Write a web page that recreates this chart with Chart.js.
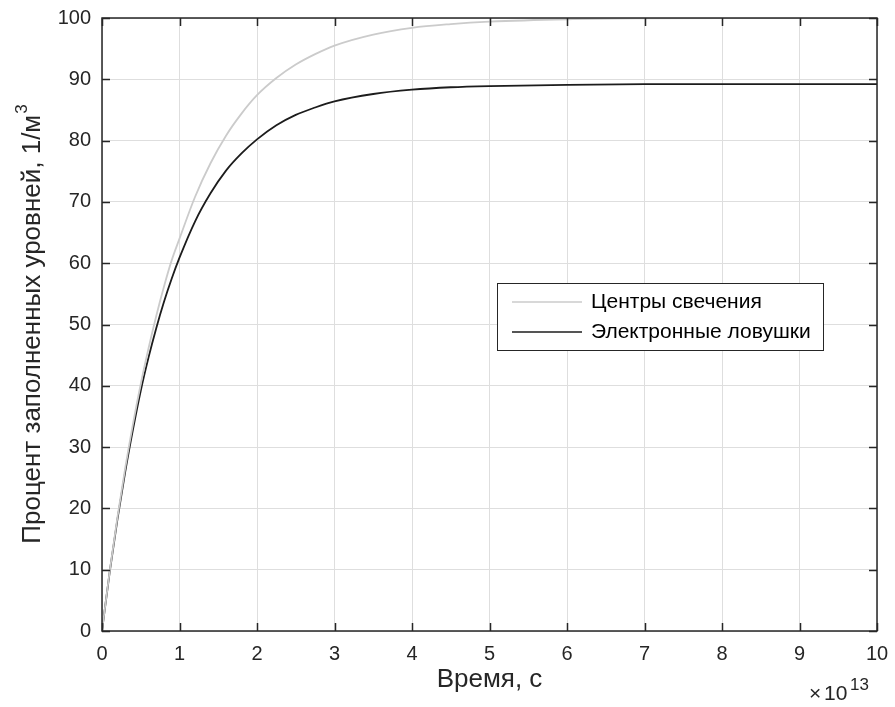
<!DOCTYPE html>
<html>
<head>
<meta charset="utf-8">
<script src="https://cdn.jsdelivr.net/npm/chart.js@4.4.0/dist/chart.umd.min.js"></script>
<style>
  html, body { margin: 0; padding: 0; background: #fff; }
  #wrap { width: 895px; height: 707px; }
</style>
</head>
<body>
<div id="wrap"><canvas id="grafico" width="895" height="707"></canvas></div>
<script>
// время, ×10^13 с
const tempi = [0, 0.1, 0.2, 0.3, 0.4, 0.5, 0.6, 0.7, 0.8, 0.9, 1.0, 1.2, 1.4, 1.6, 1.8, 2.0,
  2.25, 2.5, 2.75, 3.0, 3.5, 4.0, 4.5, 5, 6, 7, 8, 9, 10];
const centri = [0, 9.8, 18.6, 26.6, 33.8, 40.3, 46.1, 51.4, 56.2, 60.5, 64.0, 70.8, 76.3, 80.8, 84.4, 87.4,
  90.2, 92.4, 94.1, 95.5, 97.3, 98.4, 99.0, 99.4, 99.8, 99.95, 100, 100, 100];
const trappole = [0, 9.7, 18.3, 26.0, 32.9, 39.2, 44.6, 49.4, 53.7, 57.5, 60.9, 66.8, 71.4, 75.1, 77.9, 80.2,
  82.5, 84.2, 85.4, 86.4, 87.6, 88.3, 88.7, 88.9, 89.1, 89.2, 89.2, 89.2, 89.2];
const etichette = ['Центры свечения', 'Электронные ловушки'];
const titoloX = 'Время, с';
const titoloY = 'Процент заполненных уровней, 1/м';
const xTicks = [0, 1, 2, 3, 4, 5, 6, 7, 8, 9, 10];
const yTicks = [0, 10, 20, 30, 40, 50, 60, 70, 80, 90, 100];

const FONT = '"Liberation Sans", Arial, sans-serif';
const TESTO = '#262626';

const punti = (ys) => tempi.map((t, i) => ({ x: t, y: ys[i] }));

const decorazioni = {
  id: 'decorazioni',
  afterDraw(chart) {
    const ctx = chart.ctx;
    const a = chart.chartArea;
    const sx = chart.scales.x, sy = chart.scales.y;
    ctx.save();
    // riquadro
    ctx.strokeStyle = TESTO;
    ctx.lineWidth = 1.5;
    ctx.strokeRect(a.left, a.top, a.right - a.left, a.bottom - a.top);
    // tacche interne
    const L = 8;
    ctx.beginPath();
    xTicks.forEach(v => {
      const px = Math.round(sx.getPixelForValue(v)) + 0.5;
      ctx.moveTo(px, a.bottom); ctx.lineTo(px, a.bottom - L);
      ctx.moveTo(px, a.top); ctx.lineTo(px, a.top + L);
    });
    yTicks.forEach(v => {
      const py = Math.round(sy.getPixelForValue(v)) + 0.5;
      ctx.moveTo(a.left, py); ctx.lineTo(a.left + L, py);
      ctx.moveTo(a.right, py); ctx.lineTo(a.right - L, py);
    });
    ctx.stroke();

    // titolo asse X
    ctx.fillStyle = TESTO;
    ctx.font = '26px ' + FONT;
    ctx.textAlign = 'center';
    ctx.textBaseline = 'alphabetic';
    ctx.fillText(titoloX, (a.left + a.right) / 2, 687);

    // moltiplicatore ×10^13
    ctx.textAlign = 'left';
    ctx.font = '21px ' + FONT;
    ctx.fillText('\u00d7', 809, 700);
    ctx.fillText('10', 824, 700);
    ctx.font = '17px ' + FONT;
    ctx.fillText('13', 850, 690);

    // titolo asse Y
    ctx.save();
    ctx.translate(40, (a.top + a.bottom) / 2);
    ctx.rotate(-Math.PI / 2);
    ctx.font = '26px ' + FONT;
    const w1 = ctx.measureText(titoloY).width;
    ctx.font = '17px ' + FONT;
    const w2 = ctx.measureText('3').width;
    const start = -(w1 + w2) / 2;
    ctx.font = '26px ' + FONT;
    ctx.textAlign = 'left';
    ctx.textBaseline = 'alphabetic';
    ctx.fillText(titoloY, start, 0);
    ctx.font = '17px ' + FONT;
    ctx.fillText('3', start + w1 + 1, -13);
    ctx.restore();

    // legenda
    const lx = 497, ly = 283, lw = 326, lh = 67;
    ctx.fillStyle = '#fff';
    ctx.fillRect(lx, ly, lw, lh);
    ctx.strokeStyle = TESTO;
    ctx.lineWidth = 1;
    ctx.strokeRect(lx + 0.5, ly + 0.5, lw, lh);
    const colori = chart.data.datasets.map(d => d.borderColor);
    [302, 332].forEach((yy, i) => {
      ctx.strokeStyle = colori[i];
      ctx.lineWidth = 1.5;
      ctx.beginPath();
      ctx.moveTo(512, yy); ctx.lineTo(582, yy);
      ctx.stroke();
      ctx.fillStyle = '#000';
      ctx.font = '21px ' + FONT;
      ctx.textAlign = 'left';
      ctx.textBaseline = 'middle';
      ctx.fillText(etichette[i], 591, yy);
    });
    ctx.restore();
  }
};

new Chart(document.getElementById('grafico').getContext('2d'), {
  type: 'line',
  data: {
    datasets: [
      {
        label: etichette[0],
        data: punti(centri),
        borderColor: '#cbcbcb',
        borderWidth: 1.8,
        pointRadius: 0,
        cubicInterpolationMode: 'monotone'
      },
      {
        label: etichette[1],
        data: punti(trappole),
        borderColor: '#1c1c1c',
        borderWidth: 1.8,
        pointRadius: 0,
        cubicInterpolationMode: 'monotone'
      }
    ]
  },
  options: {
    responsive: false,
    animation: false,
    events: [],
    layout: { padding: { left: 0, top: 18, right: 18, bottom: 0 } },
    plugins: { legend: { display: false }, tooltip: { enabled: false } },
    scales: {
      x: {
        type: 'linear',
        min: 0, max: 10,
        afterFit: s => { s.height = 76; s.paddingLeft = 0; s.paddingRight = 0; },
        afterBuildTicks: s => { s.ticks = xTicks.map(v => ({ value: v })); },
        grid: { color: '#dedede', lineWidth: 1, drawTicks: false },
        border: { display: false },
        ticks: { padding: 11, color: TESTO, font: { family: FONT, size: 20 }, maxRotation: 0 }
      },
      y: {
        min: 0, max: 100,
        afterFit: s => { s.width = 102; s.paddingTop = 0; s.paddingBottom = 0; },
        afterBuildTicks: s => { s.ticks = yTicks.map(v => ({ value: v })); },
        grid: { color: '#dedede', lineWidth: 1, drawTicks: false },
        border: { display: false },
        ticks: { padding: 11, color: TESTO, font: { family: FONT, size: 20 } }
      }
    }
  },
  plugins: [decorazioni]
});
</script>
</body>
</html>
